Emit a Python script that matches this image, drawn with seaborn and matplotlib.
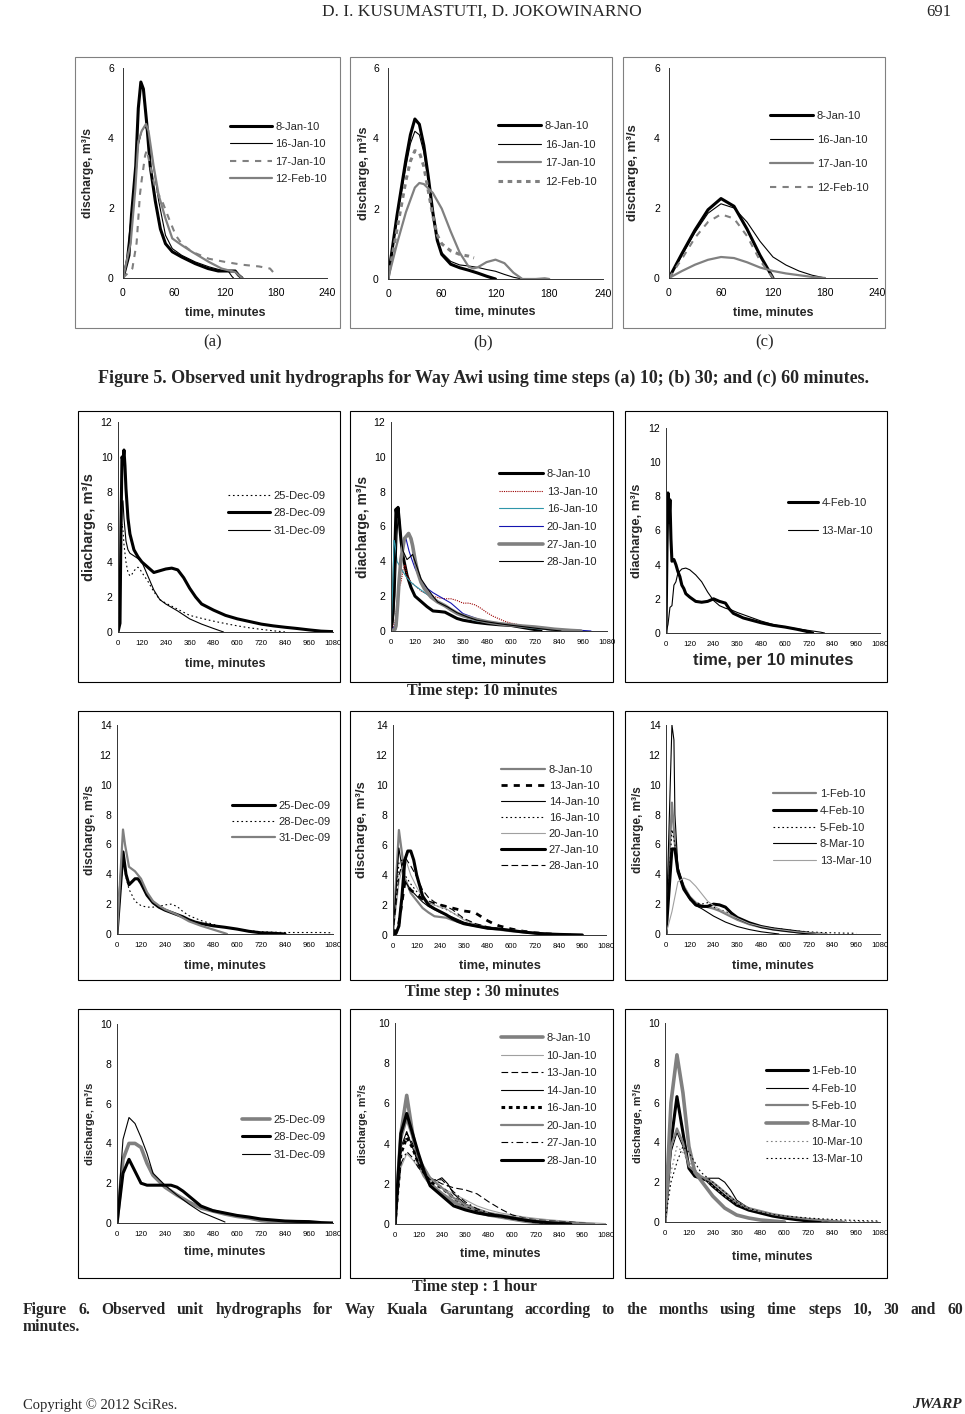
import matplotlib
matplotlib.use("Agg")
import matplotlib.pyplot as plt
import seaborn as sns
import pandas as pd
from matplotlib.patches import Rectangle

# ======================= DATA =======================
# ---- Figure 5 (a): Way Awi, time step 10 min
p1_labels = ['8-Jan-10', '16-Jan-10', '17-Jan-10', '12-Feb-10']
p1_t = [[0, 7, 10, 15, 18, 21, 24, 28, 32, 38, 44, 50, 58, 69, 85, 100, 112, 124, 132, 136, 140],
        [0, 3, 9, 14, 18, 22, 26, 30, 34, 42, 50, 58, 69, 85, 101, 116, 124, 128, 130],
        [0, 11, 16, 20, 22, 26, 28, 32, 38, 46, 54, 62, 69, 81, 101, 120, 140, 160, 173, 179],
        [0, 9, 14.5, 18, 22, 27, 30, 36, 42, 50, 58, 69, 81, 101, 116, 132, 140]]
p1_q = [[0, 0.65, 1.8, 3.2, 4.85, 5.6, 5.4, 4.4, 3.2, 2.2, 1.4, 0.98, 0.75, 0.6, 0.41, 0.27, 0.2, 0.2, 0.2, 0.08, 0],
        [0, 0.3, 1.6, 2.8, 3.8, 4.2, 4.35, 4.1, 3.5, 2.2, 1.22, 0.84, 0.65, 0.46, 0.32, 0.22, 0.19, 0.05, 0],
        [0, 0.27, 1.0, 2.4, 2.8, 3.5, 3.65, 3.2, 2.56, 2.2, 1.7, 1.22, 0.98, 0.75, 0.55, 0.46, 0.38, 0.33, 0.27, 0.1],
        [0, 1.0, 2.55, 3.9, 4.2, 4.4, 4.2, 3.2, 2.37, 1.7, 1.13, 0.94, 0.75, 0.46, 0.27, 0.17, 0]]

# ---- Figure 5 (b): time step 30 min
p2_labels = ['8-Jan-10', '16-Jan-10', '17-Jan-10', '12-Feb-10']
p2_t = [[0, 10, 20, 25, 30, 35, 40, 45, 50, 55, 60, 70, 80, 90, 100, 110, 120],
        [0, 10, 20, 25, 30, 35, 40, 45, 50, 55, 60, 70, 80, 90, 100, 110, 120, 130, 140, 150],
        [0, 10, 20, 30, 35, 40, 50, 60, 70, 80, 90, 95, 100, 110, 120, 130, 140, 150, 165, 175, 180],
        [0, 10, 20, 25, 30, 35, 40, 45, 50, 55, 60, 70, 80, 90, 96]]
p2_q = [[0, 1.8, 3.4, 4.1, 4.55, 4.4, 3.8, 2.9, 1.9, 1.1, 0.7, 0.42, 0.32, 0.25, 0.17, 0.08, 0],
        [0, 1.7, 3.2, 3.85, 4.2, 4.1, 3.6, 2.8, 1.9, 1.1, 0.75, 0.5, 0.4, 0.37, 0.33, 0.27, 0.22, 0.13, 0.05, 0],
        [0, 1.0, 1.9, 2.6, 2.73, 2.7, 2.45, 2.0, 1.35, 0.75, 0.35, 0.3, 0.33, 0.48, 0.55, 0.45, 0.18, 0, 0, 0.02, 0],
        [0, 1.4, 2.8, 3.35, 3.65, 3.6, 3.2, 2.5, 1.8, 1.25, 1.0, 0.8, 0.7, 0.65, 0.6]]

# ---- Figure 5 (c): time step 60 min
p3_labels = ['8-Jan-10', '16-Jan-10', '17-Jan-10', '12-Feb-10']
p3_t = [[0, 15, 30, 45, 60, 75, 90, 105, 120],
        [0, 15, 30, 45, 60, 75, 90, 105, 120, 135, 150, 165, 180],
        [0, 15, 30, 45, 60, 75, 90, 105, 120, 135, 150, 165, 180],
        [0, 15, 30, 45, 60, 75, 90, 105, 120]]
p3_q = [[0, 0.7, 1.37, 1.95, 2.27, 2.05, 1.4, 0.65, 0],
        [0, 0.65, 1.3, 1.85, 2.12, 2.0, 1.6, 1.05, 0.6, 0.37, 0.2, 0.08, 0],
        [0, 0.2, 0.38, 0.52, 0.6, 0.57, 0.45, 0.3, 0.2, 0.13, 0.08, 0.03, 0],
        [0, 0.55, 1.15, 1.6, 1.82, 1.7, 1.2, 0.5, 0]]

# ---- Figure 6, time step 10 min
p4_labels = ['25-Dec-09', '28-Dec-09', '31-Dec-09']
p4_t = [[0, 10, 15, 20, 25, 30, 40, 50, 60, 70, 80, 90, 100, 110, 120, 150, 180, 210, 240, 300, 360, 420, 480, 540, 600, 660, 720, 780, 840],
        [0, 10, 15, 20, 25, 30, 35, 40, 50, 60, 80, 100, 120, 150, 180, 210, 240, 270, 300, 330, 360, 390, 420, 480, 540, 600, 660, 720, 780, 840, 900, 960, 1020, 1080],
        [0, 10, 15, 20, 25, 30, 40, 50, 60, 80, 100, 120, 150, 180, 210, 240, 300, 360, 420, 480, 530]]
p4_q = [[0, 2, 5.5, 6.2, 5.8, 5.0, 4.0, 3.4, 3.2, 3.3, 3.5, 3.6, 3.7, 3.6, 3.4, 2.9, 2.3, 1.85, 1.65, 1.3, 0.95, 0.78, 0.62, 0.48, 0.35, 0.24, 0.15, 0.07, 0],
        [0, 0.5, 6, 10, 9.8, 10.4, 9.5, 8.2, 6.5, 5.6, 4.7, 4.3, 4.0, 3.7, 3.4, 3.5, 3.6, 3.65, 3.55, 3.1, 2.5, 2.0, 1.6, 1.25, 0.95, 0.75, 0.6, 0.45, 0.35, 0.27, 0.2, 0.12, 0.05, 0.02],
        [0, 1.5, 5, 7.3, 7.5, 6.5, 5.2, 4.7, 4.5, 4.35, 4.2, 4.0, 3.2, 2.4, 1.85, 1.6, 1.2, 0.75, 0.45, 0.2, 0]]

p5_labels = ['8-Jan-10', '13-Jan-10', '16-Jan-10', '20-Jan-10', '27-Jan-10', '28-Jan-10']
p5_t = [[0, 10, 20, 25, 30, 35, 40, 50, 60, 80, 100, 120, 150, 180, 210, 240, 270, 300, 330, 360, 420, 480, 540, 600, 660, 720, 750],
        [0, 20, 30, 40, 50, 60, 70, 80, 100, 120, 150, 180, 210, 240, 270, 300, 330, 360, 390, 420, 450, 480, 510, 540, 570, 600, 630, 660, 720, 780, 840],
        [0, 10, 15, 20, 25, 30, 40, 60, 80, 100, 120, 150, 180, 210, 240, 300, 360, 420, 480, 540, 600, 660, 720, 780, 840, 900],
        [0, 20, 30, 40, 50, 60, 75, 90, 100, 120, 150, 180, 210, 240, 270, 300, 330, 360, 420, 480, 540, 600, 660, 720, 780, 840, 900, 960, 1000],
        [0, 20, 25, 33, 40, 50, 67, 88, 100, 108, 120, 133, 150, 167, 200, 233, 270, 300, 333, 360, 420, 483, 540, 600, 660, 717, 780, 817, 900, 950],
        [0, 10, 20, 30, 35, 40, 50, 60, 80, 100, 108, 120, 133, 150, 183, 210, 233, 283, 330, 383, 430, 483, 540, 600, 660, 717, 783, 850]]
p5_q = [[0, 1.0, 5.0, 7.0, 6.6, 7.1, 6.5, 5.2, 4.3, 3.2, 2.5, 2.0, 1.7, 1.4, 1.15, 1.12, 1.08, 0.9, 0.72, 0.62, 0.5, 0.42, 0.36, 0.32, 0.2, 0.08, 0],
        [0, 0.5, 1.5, 2.5, 2.8, 3.5, 3.8, 3.2, 2.8, 2.6, 2.3, 2.1, 2.0, 1.9, 1.85, 1.85, 1.75, 1.6, 1.6, 1.5, 1.3, 1.05, 0.85, 0.7, 0.55, 0.45, 0.38, 0.3, 0.15, 0.08, 0],
        [0, 3, 5.2, 5.0, 4.5, 4.0, 3.8, 3.4, 3.05, 2.8, 2.6, 2.35, 2.1, 1.85, 1.6, 1.2, 0.85, 0.6, 0.5, 0.4, 0.32, 0.22, 0.14, 0.08, 0.03, 0],
        [0, 0.3, 1.0, 2.5, 4.0, 5.0, 5.3, 4.6, 4.25, 3.6, 2.9, 2.45, 2.2, 2.0, 1.8, 1.6, 1.3, 1.0, 0.75, 0.52, 0.42, 0.33, 0.27, 0.22, 0.15, 0.1, 0.06, 0.03, 0],
        [0, 0.1, 0.3, 1.5, 2.8, 4.15, 5.3, 5.6, 5.3, 4.9, 4.1, 3.4, 2.8, 2.43, 1.95, 1.67, 1.45, 1.22, 1.0, 0.88, 0.68, 0.52, 0.42, 0.35, 0.28, 0.23, 0.15, 0.1, 0.03, 0],
        [0, 0.5, 2.0, 5.5, 6.5, 6.8, 5.5, 4.6, 4.1, 4.3, 4.4, 4.0, 3.58, 3.0, 2.43, 2.0, 1.67, 1.38, 1.05, 0.8, 0.62, 0.52, 0.42, 0.33, 0.25, 0.17, 0.08, 0]]

p6_labels = ['4-Feb-10', '13-Mar-10']
p6_t = [[0, 5, 10, 15, 20, 25, 30, 40, 50, 60, 70, 80, 90, 100, 120, 150, 180, 210, 240, 270, 300, 320, 340, 390, 480, 540, 600, 660, 700, 730, 740],
        [0, 10, 20, 30, 40, 50, 60, 80, 100, 120, 150, 180, 210, 240, 270, 300, 330, 360, 420, 480, 540, 600, 660, 720, 780, 800]]
p6_q = [[0, 5, 8.2, 6.5, 7.8, 5.5, 4.2, 4.3, 4.0, 3.6, 3.3, 2.8, 2.6, 2.3, 2.1, 1.85, 1.8, 1.85, 2.0, 1.85, 1.75, 1.4, 1.15, 0.88, 0.6, 0.45, 0.35, 0.22, 0.12, 0.03, 0],
        [0, 0.5, 1.5, 1.6, 2.8, 3.0, 3.5, 3.75, 3.8, 3.7, 3.4, 3.0, 2.4, 1.9, 1.6, 1.45, 1.35, 1.2, 0.95, 0.7, 0.5, 0.35, 0.25, 0.15, 0.05, 0]]

# ---- Figure 6, time step 30 min
p7_labels = ['25-Dec-09', '28-Dec-09', '31-Dec-09']
p7_t = [[0, 30, 45, 60, 90, 105, 120, 150, 180, 210, 240, 270, 300, 330, 360, 390, 420, 480, 540, 600, 660, 720, 780, 840],
        [0, 30, 45, 60, 90, 120, 150, 180, 210, 240, 270, 300, 330, 360, 420, 480, 540, 600, 660, 720, 780, 840, 900, 960, 1020, 1080],
        [0, 15, 30, 40, 60, 90, 120, 150, 180, 210, 240, 300, 360, 420, 480, 540, 550]]
p7_q = [[0, 5.5, 4.0, 3.3, 3.7, 3.7, 3.4, 2.6, 2.1, 1.8, 1.6, 1.45, 1.3, 1.15, 0.95, 0.8, 0.7, 0.55, 0.45, 0.33, 0.18, 0.08, 0.05, 0],
        [0, 5.0, 3.8, 3.0, 2.2, 1.9, 1.8, 1.8, 1.85, 1.95, 2.0, 1.85, 1.5, 1.23, 0.9, 0.65, 0.45, 0.3, 0.22, 0.15, 0.12, 0.1, 0.1, 0.1, 0.1, 0.08],
        [0, 3.5, 7.0, 6.0, 4.5, 4.2, 3.7, 2.8, 2.2, 1.9, 1.65, 1.3, 0.85, 0.55, 0.3, 0.05, 0]]

p8_labels = ['8-Jan-10', '13-Jan-10', '14-Jan-10', '16-Jan-10', '20-Jan-10', '27-Jan-10', '28-Jan-10']
p8_t = [[0, 30, 45, 60, 90, 120, 150, 180, 210, 240, 270, 300, 360, 420, 480, 540, 600, 660, 720, 780, 840, 900, 960],
        [0, 30, 60, 90, 120, 150, 180, 210, 240, 270, 300, 330, 360, 390, 420, 450, 480, 510, 540, 600, 660, 720, 780, 840, 900],
        [0, 30, 45, 60, 90, 120, 150, 180, 210, 240, 270, 300, 360, 420, 480, 540, 600, 660, 720, 780, 840, 900],
        [0, 30, 45, 60, 90, 120, 150, 180, 210, 240, 270, 300, 360, 420, 480, 540, 600, 660, 720, 780, 840, 900],
        [0, 30, 60, 90, 120, 150, 180, 210, 240, 270, 300, 360, 420, 480, 540, 600, 660, 720, 780, 840, 900, 960],
        [0, 15, 30, 45, 60, 75, 90, 105, 120, 150, 180, 210, 240, 270, 300, 330, 360, 420, 480, 540, 600, 660, 720, 780, 840, 900, 960],
        [0, 30, 60, 90, 120, 150, 180, 210, 240, 270, 300, 330, 360, 420, 480, 540, 600, 660, 720, 780, 840, 900]]
p8_q = [[0, 7.0, 5.5, 3.8, 2.8, 2.3, 1.8, 1.5, 1.25, 1.2, 1.15, 1.0, 0.75, 0.6, 0.45, 0.35, 0.25, 0.18, 0.12, 0.07, 0.04, 0.02, 0],
        [0, 0.8, 3.5, 3.0, 2.7, 2.4, 2.2, 2.1, 2.0, 1.9, 1.8, 1.7, 1.6, 1.55, 1.45, 1.2, 0.95, 0.75, 0.6, 0.4, 0.25, 0.15, 0.08, 0.04, 0],
        [0, 5.8, 4.5, 3.6, 3.0, 2.6, 2.2, 1.9, 1.7, 1.5, 1.35, 1.2, 0.85, 0.65, 0.5, 0.38, 0.28, 0.18, 0.1, 0.05, 0.02, 0],
        [0, 4.8, 5.0, 4.0, 3.4, 2.9, 2.5, 2.2, 2.0, 1.85, 1.7, 1.5, 1.05, 0.7, 0.5, 0.38, 0.28, 0.2, 0.12, 0.07, 0.03, 0],
        [0, 3.5, 5.2, 4.0, 3.2, 2.5, 2.2, 2.0, 1.85, 1.75, 1.5, 1.0, 0.7, 0.55, 0.45, 0.35, 0.25, 0.18, 0.12, 0.07, 0.03, 0],
        [0, 0.1, 0.6, 2.5, 5.0, 5.6, 5.6, 5.0, 4.0, 2.6, 2.0, 1.75, 1.55, 1.35, 1.1, 0.9, 0.75, 0.6, 0.45, 0.4, 0.3, 0.2, 0.12, 0.07, 0.04, 0.02, 0],
        [0, 4.0, 5.2, 4.6, 3.9, 3.0, 2.5, 2.2, 2.0, 1.9, 1.7, 1.4, 1.1, 0.75, 0.55, 0.42, 0.3, 0.2, 0.12, 0.06, 0.03, 0]]

p9_labels = ['1-Feb-10', '4-Feb-10', '5-Feb-10', '8-Mar-10', '13-Mar-10']
p9_t = [[0, 30, 45, 60, 90, 120, 150, 180, 210, 240, 270, 300, 360, 420, 480, 540, 600, 660, 720, 780, 810],
        [0, 30, 45, 60, 90, 120, 150, 180, 210, 240, 270, 300, 330, 360, 420, 480, 540, 600, 660, 720, 750],
        [0, 30, 45, 60, 90, 120, 150, 180, 210, 240, 270, 300, 360, 420, 480, 540, 600, 660, 720, 780, 840, 900, 960],
        [0, 15, 30, 40, 45, 60, 90, 120, 150, 180, 210, 240, 270, 300, 360, 420, 480, 540, 570],
        [0, 30, 60, 90, 120, 150, 180, 210, 240, 270, 300, 360, 420, 480, 540, 600, 660, 720, 780, 810]]
p9_q = [[0, 8.8, 6.0, 4.3, 3.2, 2.5, 2.1, 1.9, 1.8, 1.7, 1.55, 1.35, 0.95, 0.65, 0.45, 0.3, 0.2, 0.12, 0.06, 0.02, 0],
        [0, 5.7, 5.7, 4.2, 3.0, 2.4, 1.95, 1.85, 1.85, 2.0, 1.95, 1.8, 1.4, 1.1, 0.75, 0.5, 0.35, 0.25, 0.15, 0.05, 0],
        [0, 7.0, 6.0, 4.2, 3.0, 2.3, 2.1, 2.0, 2.1, 1.8, 1.65, 1.5, 1.1, 0.7, 0.5, 0.4, 0.3, 0.2, 0.15, 0.1, 0.08, 0.06, 0.05],
        [0, 7.0, 14.0, 13.0, 8.0, 4.5, 3.2, 2.3, 1.9, 1.7, 1.45, 1.2, 1.0, 0.8, 0.5, 0.3, 0.15, 0.05, 0],
        [0, 1.5, 3.5, 3.75, 3.6, 3.2, 2.7, 2.2, 1.9, 1.65, 1.45, 1.05, 0.7, 0.5, 0.35, 0.25, 0.15, 0.08, 0.03, 0]]

# ---- Figure 6, time step 1 hour
p10_labels = ['25-Dec-09', '28-Dec-09', '31-Dec-09']
p10_t = [[0, 30, 60, 90, 120, 150, 180, 240, 300, 360, 420, 480, 540, 600, 660, 720, 780, 840, 900],
         [0, 30, 60, 90, 120, 150, 180, 240, 270, 300, 330, 360, 420, 480, 540, 600, 660, 720, 780, 840, 900, 960, 1020, 1080],
         [0, 30, 60, 90, 120, 150, 180, 240, 300, 360, 420, 480, 540]]
p10_q = [[0, 3.2, 4.0, 4.0, 3.8, 3.0, 2.4, 1.8, 1.4, 1.05, 0.75, 0.6, 0.45, 0.33, 0.25, 0.12, 0.07, 0.03, 0],
         [0, 2.5, 3.2, 2.6, 2.0, 1.9, 1.9, 1.9, 1.9, 1.8, 1.6, 1.35, 0.85, 0.62, 0.5, 0.38, 0.3, 0.2, 0.15, 0.1, 0.08, 0.07, 0.02, 0],
         [0, 4.2, 5.3, 5.0, 4.3, 3.5, 2.5, 1.9, 1.4, 0.95, 0.55, 0.3, 0.05]]

p11_labels = ['8-Jan-10', '10-Jan-10', '13-Jan-10', '14-Jan-10', '16-Jan-10', '20-Jan-10', '27-Jan-10', '28-Jan-10']
p11_t = [[0, 30, 60, 90, 120, 150, 180, 240, 300, 360, 420, 480, 540, 600, 660, 720, 780, 840, 900],
         [0, 30, 60, 90, 120, 180, 240, 300, 360, 420, 480, 540, 600, 660, 720, 780, 840, 900, 960, 1020, 1080],
         [0, 30, 60, 90, 120, 180, 240, 300, 360, 420, 480, 540, 600, 660, 720, 780, 840, 900, 960, 1020],
         [0, 30, 60, 90, 120, 180, 240, 270, 300, 360, 420, 480, 540, 600, 660, 720, 780, 840, 900, 960, 1020],
         [0, 30, 60, 90, 120, 180, 240, 300, 360, 420, 480, 540, 600, 660, 720, 780, 840, 900],
         [0, 30, 60, 90, 120, 180, 240, 300, 360, 420, 480, 540, 600, 660, 720, 780, 840, 900, 960, 1020],
         [0, 30, 60, 90, 120, 180, 240, 300, 360, 420, 480, 540, 600, 660, 720, 780, 840, 900],
         [0, 30, 60, 90, 120, 150, 180, 240, 300, 360, 420, 480, 540, 600, 660, 720, 780, 840, 900]]
p11_q = [[0, 4.5, 6.4, 4.5, 3.0, 2.4, 2.0, 1.5, 1.1, 0.8, 0.6, 0.45, 0.35, 0.25, 0.15, 0.08, 0.04, 0.02, 0],
         [0, 2.8, 3.5, 3.2, 2.8, 2.2, 1.8, 1.5, 1.2, 0.9, 0.7, 0.55, 0.45, 0.35, 0.28, 0.22, 0.17, 0.12, 0.08, 0.05, 0.02],
         [0, 3.5, 4.5, 4.0, 3.3, 2.3, 2.0, 1.8, 1.7, 1.5, 1.1, 0.75, 0.45, 0.3, 0.22, 0.17, 0.13, 0.1, 0.05, 0],
         [0, 3.8, 4.6, 3.8, 3.0, 2.0, 2.3, 2.0, 1.5, 1.0, 0.7, 0.5, 0.4, 0.3, 0.2, 0.15, 0.1, 0.07, 0.05, 0.03, 0],
         [0, 3.5, 4.3, 3.8, 3.0, 2.1, 1.8, 1.3, 0.95, 0.7, 0.5, 0.4, 0.3, 0.2, 0.12, 0.07, 0.03, 0],
         [0, 4.2, 5.2, 4.3, 3.3, 2.3, 1.8, 1.3, 0.95, 0.75, 0.55, 0.45, 0.35, 0.25, 0.18, 0.12, 0.08, 0.05, 0.02, 0],
         [0, 3.0, 3.6, 3.3, 2.8, 2.2, 2.2, 1.6, 1.1, 0.75, 0.55, 0.42, 0.32, 0.22, 0.14, 0.08, 0.04, 0],
         [0, 4.5, 5.5, 4.5, 3.5, 2.6, 1.9, 1.4, 0.9, 0.7, 0.55, 0.45, 0.4, 0.3, 0.2, 0.12, 0.07, 0.03, 0]]

p12_labels = ['1-Feb-10', '4-Feb-10', '5-Feb-10', '8-Mar-10', '10-Mar-10', '13-Mar-10']
p12_t = [[0, 30, 60, 90, 120, 150, 180, 210, 240, 300, 360, 420, 480, 540, 600, 660, 720, 780],
         [0, 30, 60, 90, 120, 180, 240, 270, 300, 330, 360, 420, 480, 540, 600, 660, 720, 780, 840],
         [0, 30, 60, 90, 120, 180, 240, 300, 360, 420, 480, 540, 600, 660, 720, 780, 840, 900],
         [0, 30, 60, 90, 120, 150, 180, 240, 300, 360, 420, 480, 540, 600],
         [0, 30, 60, 90, 120, 180, 240, 300, 360, 420, 480, 540, 600, 660, 720, 780, 840, 900, 960, 1080],
         [0, 30, 60, 90, 120, 150, 180, 240, 300, 360, 420, 480, 540, 600, 660, 720, 780, 840, 900, 960, 1020, 1080]]
p12_q = [[0, 4.0, 6.3, 4.5, 2.7, 2.3, 2.2, 2.1, 1.8, 1.3, 0.85, 0.6, 0.45, 0.3, 0.2, 0.12, 0.05, 0],
         [0, 3.5, 4.5, 3.8, 2.8, 2.2, 2.2, 2.2, 2.0, 1.6, 1.1, 0.7, 0.5, 0.38, 0.28, 0.2, 0.12, 0.06, 0],
         [0, 3.8, 4.7, 4.0, 2.8, 2.3, 2.0, 1.5, 1.0, 0.7, 0.55, 0.4, 0.3, 0.22, 0.15, 0.1, 0.05, 0],
         [0, 6.0, 8.4, 6.5, 3.8, 2.5, 2.1, 1.3, 0.7, 0.35, 0.2, 0.1, 0.05, 0],
         [0, 2.5, 3.8, 3.5, 3.0, 2.3, 1.8, 1.3, 0.9, 0.65, 0.5, 0.38, 0.3, 0.22, 0.17, 0.12, 0.08, 0.05, 0.03, 0],
         [0, 2.0, 3.0, 3.8, 3.5, 3.0, 2.5, 2.0, 1.5, 1.0, 0.7, 0.5, 0.38, 0.3, 0.25, 0.2, 0.16, 0.13, 0.1, 0.08, 0.06, 0.05]]

# ======================= STYLES =======================
GRAY = '#808080'
STY = {
    'bk_thick': dict(color='black', lw=2.2, ls='-'),
    'bk_thin': dict(color='black', lw=0.8, ls='-'),
    'bk_dot': dict(color='black', lw=0.8, ls=(0, (1.5, 2.5))),
    'bk_dash': dict(color='black', lw=0.8, ls=(0, (6, 3))),
    'bk_dashdot': dict(color='black', lw=0.8, ls=(0, (6, 3, 1.5, 3))),
    'bk_thick_dash': dict(color='black', lw=2.0, ls=(0, (2.2, 2.2))),
    'bk_thick_dot': dict(color='black', lw=2.2, ls=(0, (1.2, 1.2))),
    'gr_med': dict(color=GRAY, lw=1.6, ls='-'),
    'gr_thick': dict(color=GRAY, lw=2.6, ls='-'),
    'gr_thin': dict(color='#a0a0a0', lw=0.8, ls='-'),
    'gr_dash': dict(color=GRAY, lw=1.5, ls=(0, (3, 3))),
    'gr_thick_dot': dict(color=GRAY, lw=2.2, ls=(0, (1.5, 1.5))),
    'gr_dot': dict(color=GRAY, lw=0.8, ls=(0, (1.5, 2.5))),
    'red_dot': dict(color='#9b0000', lw=0.8, ls=(0, (1, 1))),
    'teal': dict(color='#2f96aa', lw=0.8, ls='-'),
    'blue': dict(color='#1515b0', lw=0.8, ls='-'),
}

W, H = 965, 1414
sns.set_theme(style="white")
plt.rcParams['font.family'] = ['Liberation Sans', 'DejaVu Sans']
fig = plt.figure(figsize=(W / 100, H / 100), dpi=100)
fig.patch.set_facecolor('white')

SERIF = ['Liberation Serif', 'DejaVu Serif']


def ftxt(x, y, s, **kw):
    kw.setdefault('family', SERIF)
    return fig.text(x / W, 1 - y / H, s, **kw)


def box(x0, y0, x1, y1, color):
    fig.add_artist(Rectangle((x0 / W, 1 - y1 / H), (x1 - x0) / W, (y1 - y0) / H,
                             transform=fig.transFigure, fill=False, edgecolor=color, lw=0.8))


LEG_FS = 8
FPX = LEG_FS * 100 / 72


def panel(rect, times, flows, labels, styles, xmax, xstep, ymax, ystep, xlabel, ylabel,
          ylab_x, xlab_y, leg, fig5, xl_fs=9, yl_fs=9):
    x0, y0, x1, y1 = rect
    ax = fig.add_axes([x0 / W, 1 - y1 / H, (x1 - x0) / W, (y1 - y0) / H])
    ax.set_facecolor('none')
    for t, q, lab, st in zip(times, flows, labels, styles):
        s = STY[st]
        df = pd.DataFrame({'t': t, 'q': q})
        sns.lineplot(data=df, x='t', y='q', ax=ax, color=s['color'], linewidth=s['lw'],
                     linestyle=s['ls'], label=lab, sort=False, estimator=None, legend=False)
    ax.set_xlim(0, xmax)
    ax.set_ylim(0, ymax)
    ax.set_xticks(list(range(0, xmax + 1, xstep)))
    ax.set_yticks(list(range(0, ymax + 1, ystep)))
    for sp in ['top', 'right']:
        ax.spines[sp].set_visible(False)
    for sp in ['left', 'bottom']:
        ax.spines[sp].set_color('#333333')
        ax.spines[sp].set_linewidth(0.7)
    if fig5:
        ax.tick_params(axis='x', direction='out', length=2.4, width=0.6, labelsize=7.5, pad=5.0, colors='#333333', labelcolor='black')
        ax.tick_params(axis='y', direction='out', length=2.4, width=0.6, labelsize=7.5, pad=4.2, colors='#333333', labelcolor='black')
    else:
        ax.tick_params(axis='x', direction='out', length=2.4, width=0.6, labelsize=5.6, pad=3.6, colors='#333333', labelcolor='black')
        ax.tick_params(axis='y', direction='out', length=2.4, width=0.6, labelsize=7.5, pad=1.6, colors='#333333', labelcolor='black')
    ax.grid(False)
    ax.set_xlabel(xlabel, fontsize=xl_fs, fontweight='bold')
    ax.set_ylabel(ylabel, fontsize=yl_fs, fontweight='bold')
    ax.xaxis.label.set_va('center')
    ax.yaxis.label.set_va('center')
    ax.xaxis.set_label_coords(0.5, -(xlab_y - y1) / (y1 - y0))
    ax.yaxis.set_label_coords(-(x0 - ylab_x) / (x1 - x0), 0.5)
    lx, lcy, pitch, hl = leg
    ls = pitch / FPX - 1.15
    ltop = lcy - 0.62 * FPX
    h, l = ax.get_legend_handles_labels()
    ax.legend(h, l, loc='upper left', bbox_to_anchor=(lx / W, 1 - ltop / H),
              bbox_transform=fig.transFigure, frameon=False, fontsize=LEG_FS,
              handlelength=hl, handletextpad=0.3, labelspacing=ls,
              borderpad=0, borderaxespad=0)
    return ax


# ---------- page header ----------
ftxt(482, 12, 'D. I. KUSUMASTUTI, D. JOKOWINARNO', fontsize=12.5, ha='center', va='center')
ftxt(951, 12, '691', fontsize=12, ha='right', va='center')

# ---------- Figure 5 ----------
for bx in [(75, 57, 340, 328), (350, 57, 612, 328), (623, 57, 885, 328)]:
    box(*bx, color=GRAY)

YL5 = 'discharge, m³/s'
panel((123, 68, 327, 278), p1_t, p1_q, p1_labels, ['bk_thick', 'bk_thin', 'gr_dash', 'gr_med'],
      240, 60, 6, 2, 'time, minutes', YL5, 88, 313, (230, 129, 20, 3.8), True, 9, 8.8)
panel((388, 68, 603, 279), p2_t, p2_q, p2_labels, ['bk_thick', 'bk_thin', 'gr_med', 'gr_thick_dot'],
      240, 60, 6, 2, 'time, minutes', YL5, 364, 312, (498, 128, 21.3, 3.9), True, 9, 9.2)
panel((669, 68, 877, 278), p3_t, p3_q, p3_labels, ['bk_thick', 'bk_thin', 'gr_med', 'gr_dash'],
      240, 60, 6, 2, 'time, minutes', YL5, 633, 313, (770, 118, 26.7, 3.9), True, 9, 9.5)

ftxt(213, 342, '(a)', fontsize=12, ha='center', va='center')
ftxt(483, 342, '(b)', fontsize=12, ha='center', va='center')
ftxt(765, 342, '(c)', fontsize=12, ha='center', va='center')
ftxt(483, 378, 'Figure 5. Observed unit hydrographs for Way Awi using time steps (a) 10; (b) 30; and (c) 60 minutes.',
     fontsize=13, fontweight='bold', ha='center', va='center')

# ---------- Figure 6 ----------
rows_y = [(411, 682), (711, 980), (1009, 1278)]
for (ya, yb) in rows_y:
    for (xa, xb) in [(78, 340), (350, 613), (625, 887)]:
        box(xa, ya, xb, yb, color='black')

YLA = 'diacharge, m³/s'
YLD = 'discharge, m³/s'
TM = 'time, minutes'
panel((118, 422, 333, 632), p4_t, p4_q, p4_labels, ['bk_dot', 'bk_thick', 'bk_thin'],
      1080, 120, 12, 2, TM, YLA, 89, 664, (228, 498, 20, 3.8), False, 9, 10.5)
panel((391, 422, 607, 631), p5_t, p5_q, p5_labels, ['bk_thick', 'red_dot', 'teal', 'blue', 'gr_thick', 'bk_thin'],
      1080, 120, 12, 2, TM, YLA, 363, 660, (499, 476, 20.4, 4.0), False, 10.5, 10)
panel((666, 428, 880, 633), p6_t, p6_q, p6_labels, ['bk_thick', 'bk_thin'],
      1080, 120, 12, 2, 'time, per 10 minutes', YLA, 637, 660, (788, 505, 31, 2.7), False, 12, 9.3)
ftxt(482, 691, 'Time step: 10 minutes', fontsize=11.5, fontweight='bold', ha='center', va='center')

panel((117, 725, 333, 934), p7_t, p7_q, p7_labels, ['bk_thick', 'bk_dot', 'gr_med'],
      1080, 120, 14, 2, TM, YLD, 90, 966, (232, 808, 18.5, 3.9), False, 9.2, 8.8)
panel((393, 725, 606, 935), p8_t, p8_q, p8_labels,
      ['gr_med', 'bk_thick_dash', 'bk_thin', 'bk_dot', 'gr_thin', 'bk_thick', 'bk_dash'],
      1080, 120, 14, 2, TM, YLD, 362, 966, (501, 772, 18.7, 4.0), False, 9.2, 9.5)
panel((666, 725, 880, 934), p9_t, p9_q, p9_labels, ['gr_med', 'bk_thick', 'bk_dot', 'bk_thin', 'gr_thin'],
      1080, 120, 14, 2, TM, YLD, 638, 966, (773, 796, 19.5, 3.9), False, 9.2, 8.5)
ftxt(482, 992, 'Time step : 30 minutes', fontsize=11.5, fontweight='bold', ha='center', va='center')

panel((117, 1024, 333, 1223), p10_t, p10_q, p10_labels, ['gr_thick', 'bk_thick', 'bk_thin'],
      1080, 120, 10, 2, TM, YLD, 90, 1252, (242, 1122, 20, 2.5), False, 9.1, 8)
panel((395, 1023, 606, 1224), p11_t, p11_q, p11_labels,
      ['gr_thick', 'gr_thin', 'bk_dash', 'bk_thin', 'bk_thick_dot', 'gr_med', 'bk_dashdot', 'bk_thick'],
      1080, 120, 10, 2, TM, YLD, 363, 1254, (501, 1040, 20.3, 3.8), False, 9, 7.8)
panel((665, 1023, 880, 1222), p12_t, p12_q, p12_labels,
      ['bk_thick', 'bk_thin', 'gr_med', 'gr_thick', 'gr_dot', 'bk_dot'],
      1080, 120, 10, 2, TM, YLD, 638, 1257, (766, 1073, 20.4, 3.8), False, 9, 7.8)
ftxt(475, 1287, 'Time step : 1 hour', fontsize=11.5, fontweight='bold', ha='center', va='center')


# ---------- Figure 6 caption (justified) ----------
def justified(text, x0, x1, y, **kw):
    words = text.split()
    r = fig.canvas.get_renderer()
    objs = [ftxt(0, y, w, ha='left', va='center', **kw) for w in words]
    widths = [o.get_window_extent(r).width for o in objs]
    gap = (x1 - x0 - sum(widths)) / (len(words) - 1)
    x = x0
    for o, wd in zip(objs, widths):
        o.set_x(x / W)
        x += wd + gap


justified('Figure 6. Observed unit hydrographs for Way Kuala Garuntang according to the months using time steps 10, 30 and 60',
          23, 963, 1310, fontsize=11.3, fontweight='bold')
ftxt(23, 1327, 'minutes.', fontsize=11.3, fontweight='bold', ha='left', va='center')

# ---------- footer ----------
ftxt(23, 1405, 'Copyright © 2012 SciRes.', fontsize=10.5, ha='left', va='center')
ftxt(962, 1405, 'JWARP', fontsize=11, fontweight='bold', fontstyle='italic', ha='right', va='center')

fig.savefig('out.png', dpi=100, facecolor='white')
